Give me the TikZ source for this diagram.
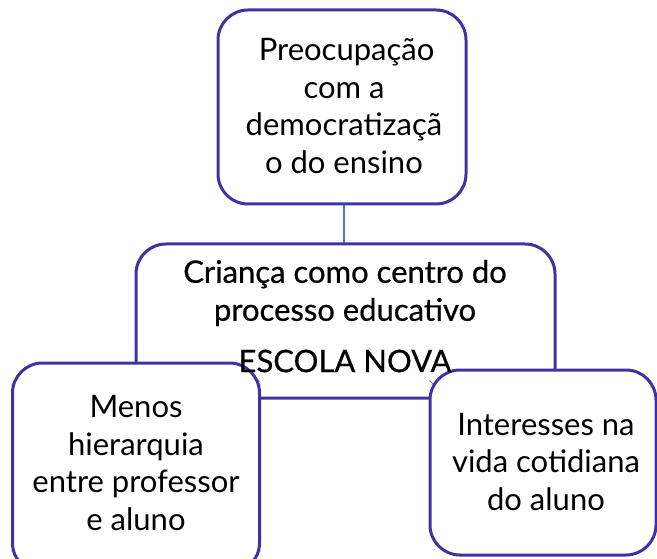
\documentclass[tikz,border=0pt]{standalone}
\usepackage{fontspec}
\setmainfont{Lato}
\newfontfamily\cenfont[FakeBold=0.6]{Lato}
\definecolor{boxline}{HTML}{3F33A3}
\definecolor{connline}{HTML}{4A7EBB}
\tikzset{
  roundbox/.style={draw=boxline, line width=3pt, fill=white, rounded corners=30pt, inner sep=0pt},
  boxtext/.style={align=center, font=\fontsize{31}{37.5}\selectfont, inner sep=0pt},
  centext/.style={align=center, font=\cenfont\fontsize{31}{38}\selectfont, inner sep=0pt},
  conn/.style={draw=connline, line width=1.5pt}
}
\begin{document}
\begin{tikzpicture}[x=1pt,y=-1pt]
\useasboundingbox (0,0) rectangle (657,559);
% connector top -> centre
\coordinate (topbot) at (344,204);
\coordinate (cenTop) at (344,245);
\draw[conn] (topbot) -- (cenTop);
% top box
\node[roundbox, minimum width=248pt, minimum height=194pt] (topbox) at (342,107) {};
\node[boxtext] (toptext) at (344,106) {\,Preocupação\\com a\\democratizaçã\\o do ensino};
% centre box
\node[roundbox, minimum width=419pt, minimum height=154pt] (cenbox) at (345.5,321) {};
% small connector ends
\coordinate (la) at (256.5,378.5);
\coordinate (lb) at (259.5,382);
\coordinate (ra) at (429.5,380.5);
\coordinate (rb) at (433,384);
\draw[conn, line width=1pt] (la) -- (lb);
\draw[conn, line width=1pt] (ra) -- (rb);
% left box
\node[roundbox, minimum width=247pt, minimum height=210pt] (lbox) at (136,468) {};
\node[boxtext] (ltext) at (136,463) {Menos\\hierarquia\\entre professor\\e aluno};
% right box
\node[roundbox, minimum width=226pt, minimum height=185pt] (rbox) at (543,462.5) {};
\node[boxtext] (rtext) at (546,462) {Interesses na\\vida cotidiana\\do aluno};
% centre text
\node[centext] (ctext1) at (345,293) {Criança como centro do\\processo educativo};
\node[centext] (ctext2) at (345,361) {ESCOLA NOVA};
\end{tikzpicture}
\end{document}
